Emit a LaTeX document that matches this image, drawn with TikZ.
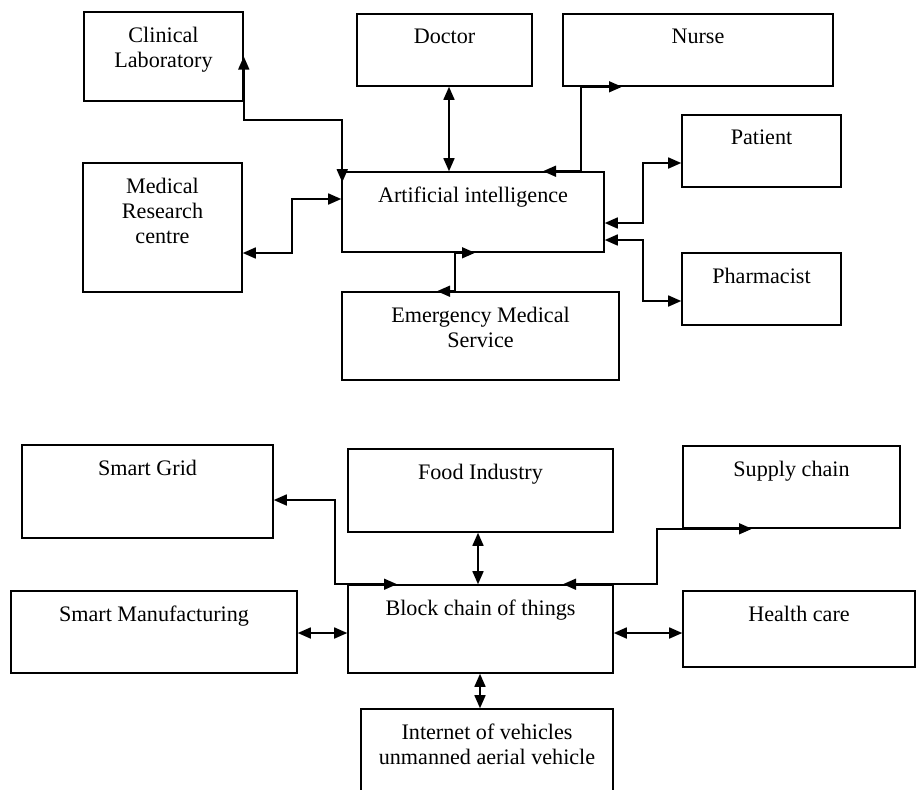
\documentclass[tikz,border=0pt]{standalone}
\usepackage{fontspec}
\setmainfont{Liberation Serif}
\usetikzlibrary{arrows.meta, positioning}

\begin{document}
\begin{tikzpicture}[x=0.02cm, y=-0.02cm,
  box/.style={draw, line width=0.9pt, inner sep=0pt},
  lbl/.style={inner sep=0pt, align=center, font=\fontsize{12.6}{14.2}\selectfont},
  link/.style={line width=0.9pt, {Triangle[length=0.26cm, width=0.22cm]}-{Triangle[length=0.26cm, width=0.22cm]}}]
\clip (0,0) rectangle (916,789);

% artificial intelligence
\node [box, minimum width=3.18cm, minimum height=1.78cm] (lab)     at (163.5,56.5) {};
\node [box, minimum width=3.50cm, minimum height=1.44cm] (doctor)  at (444.5,50)   {};
\node [box, minimum width=5.40cm, minimum height=1.44cm] (nurse)   at (698,50)     {};
\node [box, minimum width=3.18cm, minimum height=1.44cm] (patient) at (761.5,151)  {};
\node [box, minimum width=3.18cm, minimum height=2.58cm] (mrc)     at (162.5,227.5) {};
\node [box, minimum width=5.24cm, minimum height=1.60cm] (ai)      at (473,212)    {};
\node [box, minimum width=3.18cm, minimum height=1.44cm] (pharm)   at (761.5,289)  {};
\node [box, minimum width=5.54cm, minimum height=1.76cm] (ems)     at (480.5,336)  {};

\node [lbl, below=3.1mm of lab.north]     (labtxt)     {Clinical\\Laboratory};
\node [lbl, below=3.1mm of doctor.north]  (doctortxt)  {Doctor};
\node [lbl, below=3.1mm of nurse.north]   (nursetxt)   {Nurse};
\node [lbl, below=3.1mm of patient.north] (patienttxt) {Patient};
\node [lbl, below=3.1mm of mrc.north]     (mrctxt)     {Medical\\Research\\centre};
\node [lbl, below=3.1mm of ai.north]      (aitxt)      {Artificial intelligence};
\node [lbl, below=3.1mm of pharm.north]   (pharmtxt)   {Pharmacist};
\node [lbl, below=3.1mm of ems.north]     (emstxt)     {Emergency Medical\\Service};

\coordinate (labin) at ([shift={(1,11)}]ai.north west);
\draw [link] (labin) -- ++(0,-62) -| (lab.east);
\draw [link] (449,0 |- doctor.south) -- (449,0 |- ai.north);
\draw [link] (543,0 |- ai.north) -| (581,0 |- nurse.south) -- (622,0 |- nurse.south);
\draw [link] (mrc.east |- 0,253) -| (292,199) -- (ai.west |- 0,199);
\draw [link] (475,0 |- ai.south) -- (455,0 |- ai.south) -- (455,0 |- ems.north) -- (437,0 |- ems.north);
\draw [link] (ai.east |- 0,223) -| (643,163) -- (patient.west |- 0,163);
\draw [link] (ai.east |- 0,240) -| (643,301) -- (pharm.west |- 0,301);

% block chain of things
\node [box, minimum width=5.02cm, minimum height=1.86cm] (grid)   at (147.5,491.5) {};
\node [box, minimum width=5.30cm, minimum height=1.66cm] (food)   at (480.5,490.5) {};
\node [box, minimum width=4.34cm, minimum height=1.64cm] (supply) at (791.5,487)   {};
\node [box, minimum width=5.72cm, minimum height=1.64cm] (manu)   at (154,632)     {};
\node [box, minimum width=5.30cm, minimum height=1.76cm] (bct)    at (480.5,629)   {};
\node [box, minimum width=4.64cm, minimum height=1.52cm] (health) at (799,629)     {};
\node [box, minimum width=5.04cm, minimum height=1.80cm] (iov)    at (487,754)     {};

\node [lbl, below=3.1mm of grid.north]   (gridtxt)   {Smart Grid};
\node [lbl, below=3.1mm of food.north]   (foodtxt)   {Food Industry};
\node [lbl, below=3.1mm of supply.north] (supplytxt) {Supply chain};
\node [lbl, below=3.1mm of manu.north]   (manutxt)   {Smart Manufacturing};
\node [lbl, below=3.1mm of bct.north]    (bcttxt)    {Block chain of things};
\node [lbl, below=3.1mm of health.north] (healthtxt) {Health care};
\node [lbl, below=3.1mm of iov.north]    (iovtxt)    {Internet of vehicles\\unmanned aerial vehicle};

\draw [link] (grid.east |- 0,500) -| (335,0 |- bct.north) -- (397,0 |- bct.north);
\draw [link] (478,0 |- food.south) -- (478,0 |- bct.north);
\draw [link] (563,0 |- bct.north) -| (657,0 |- supply.south) -- (752,0 |- supply.south);
\draw [link] (manu.east |- 0,633) -- (bct.west |- 0,633);
\draw [link] (bct.east |- 0,633) -- (health.west |- 0,633);
\draw [link] (480,0 |- bct.south) -- (480,0 |- iov.north);
\end{tikzpicture}
\end{document}
